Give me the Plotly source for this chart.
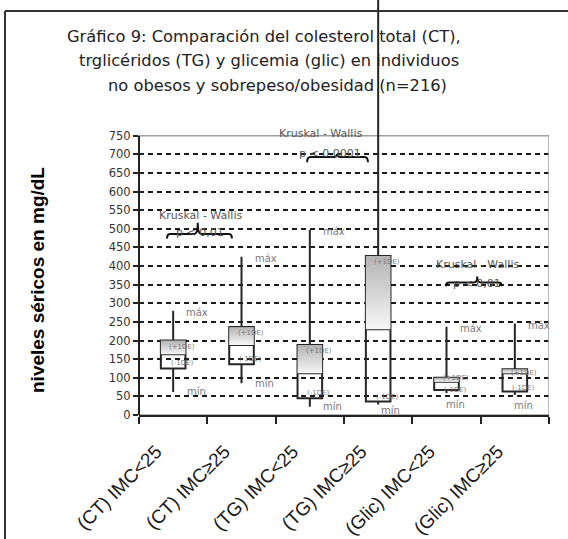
import plotly.graph_objects as go

# ---------------- data ----------------
categories = ["(CT) IMC<25", "(CT) IMC≥25", "(TG) IMC<25", "(TG) IMC≥25", "(Glic) IMC<25", "(Glic) IMC≥25"]
minimo = [62, 85, 22, 28, 59, 54]
menos_1de = [125, 136, 45, 36, 67, 63]
media = [163, 188, 112, 230, 89, 112]
mas_1de = [200, 236, 188, 427, 100, 123]
maximo = [280, 425, 497, 1150, 237, 246]
y_ticks = list(range(0, 751, 50))
kw_title = "Kruskal - Wallis"
kw_p = ["p < 0,01", "p < 0,0001", "p < 0,01"]
title_lines = ["Gráfico 9: Comparación del colesterol total (CT),",
               "trglicéridos (TG) y glicemia (glic) en individuos",
               "no obesos y sobrepeso/obesidad (n=216)"]
y_title = "niveles séricos en mg/dL"

# ---------------- geometry helpers (layout only) ----------------
W, H = 568, 539
ML, MR, MT, MB = 139, 19, 0, 124
PW, PH = W - ML - MR, H - MT - MB
Y_TOP = 1114.4   # value at top of plot area (image top)


def px(x, y):
    return (x - ML) / PW, (H - MB - y) / PH


xpos = list(range(len(categories)))
BW = 0.36

fig = go.Figure()

# gradient upper half (media -> +1DE)
for i in xpos:
    fig.add_trace(go.Scatter(
        x=[i - BW / 2, i + BW / 2, i + BW / 2, i - BW / 2, i - BW / 2],
        y=[media[i], media[i], mas_1de[i], mas_1de[i], media[i]],
        mode="lines", line=dict(width=0), fill="toself",
        fillgradient=dict(type="vertical", colorscale=[[0, "#f7f7f7"], [1, "#b3b3b3"]]),
        hoverinfo="skip", showlegend=False))

fig.add_trace(go.Box(
    x=xpos, q1=menos_1de, median=media, q3=mas_1de,
    lowerfence=minimo, upperfence=maximo,
    width=BW, whiskerwidth=0, boxpoints=False,
    fillcolor="rgba(0,0,0,0)", line=dict(color="#262626", width=2),
    hoverinfo="skip", showlegend=False))

shapes = []
# plot frame (gray) and y axis line
shapes.append(dict(type="rect", xref="x", yref="y", x0=-0.5, x1=5.5, y0=0, y1=750,
                   line=dict(color="#a0a0a0", width=1.5), layer="between"))
shapes.append(dict(type="line", xref="paper", yref="y", x0=0, x1=0, y0=0, y1=750,
                   line=dict(color="#222", width=2)))
# outer border
bx0, by0 = px(5, 11)
_, by1 = px(5, 539)
shapes.append(dict(type="line", xref="paper", yref="paper", x0=bx0, x1=1.2, y0=by0, y1=by0,
                   line=dict(color="#333", width=2)))
shapes.append(dict(type="line", xref="paper", yref="paper", x0=bx0, x1=bx0, y0=by0, y1=by1,
                   line=dict(color="#333", width=2)))


def brace(x0, x1, yb, tipx, tiph, d):
    e = 0.05
    return (f"M {x0},{yb - d} Q {x0},{yb} {x0 + e},{yb} L {tipx - e},{yb} "
            f"Q {tipx},{yb} {tipx},{yb + tiph} Q {tipx},{yb} {tipx + e},{yb} "
            f"L {x1 - e},{yb} Q {x1},{yb} {x1},{yb - d}")


for (x0, x1, yb, tx, th, d) in [(-0.09, 0.86, 486, 0.36, 30, 12),
                                (1.96, 2.85, 693, 2.40, 8, 14),
                                (3.99, 4.81, 356, 4.45, 16, 10)]:
    shapes.append(dict(type="path", xref="x", yref="y", path=brace(x0, x1, yb, tx, th, d),
                       line=dict(color="#111", width=2)))

ann = []
for k, t in enumerate(title_lines):
    ax, ay = px([264, 269, 277][k], [36, 61, 85][k])
    ann.append(dict(xref="paper", yref="paper", x=ax, y=ay, text=t, showarrow=False,
                    xanchor="center", yanchor="middle",
                    font=dict(family="DejaVu Sans", size=16.3, color="#222")))
ax, ay = px(37, 280)
ann.append(dict(xref="paper", yref="paper", x=ax, y=ay, text=y_title, showarrow=False,
                textangle=-90, xanchor="center", yanchor="middle",
                font=dict(family="Liberation Sans", size=19, color="#000", weight="bold")))

kw_pos = [((0.40, 537), (0.39, 489)), ((2.155, 757), (2.30, 703)), ((4.45, 403), (4.45, 354))]
for k, ((tx, ty), (px_, py_)) in enumerate(kw_pos):
    ann.append(dict(x=tx, y=ty, text=kw_title, showarrow=False,
                    font=dict(family="DejaVu Sans", size=11, color="#555")))
    ann.append(dict(x=px_, y=py_, text=kw_p[k], showarrow=False,
                    font=dict(family="DejaVu Sans", size=11, color="#555")))

small = dict(family="DejaVu Sans", size=10, color="#7a7a7a")
tiny = dict(family="DejaVu Sans", size=7, color="#7a7a7a")
min_shift = [(23, 0), (23, 0), (23, 0), (12, -6), (9, -11), (9, -11)]
de_shift = [(-6, 5), (-6, 5), (-6, 5), (-6, 5), (0, 0), (-4, 4)]
for i in xpos:
    if maximo[i] <= y_ticks[-1]:
        ann.append(dict(x=i, y=maximo[i], text="máx", showarrow=False, xshift=24, yshift=-2,
                        font=small))
    ann.append(dict(x=i, y=minimo[i], text="mín", showarrow=False,
                    xshift=min_shift[i][0], yshift=min_shift[i][1], font=small))
    ann.append(dict(x=i, y=mas_1de[i], text="(+1DE)", showarrow=False, xshift=9,
                    yshift=de_shift[i][0], font=tiny))
    ann.append(dict(x=i, y=menos_1de[i], text="(-1DE)", showarrow=False, xshift=9,
                    yshift=de_shift[i][1], font=tiny))

fig.update_layout(
    width=W, height=H, autosize=False,
    margin=dict(l=ML, r=MR, t=MT, b=MB, pad=0),
    paper_bgcolor="white", plot_bgcolor="white",
    shapes=shapes, annotations=ann, showlegend=False,
    xaxis=dict(range=[-0.5, 5.5], tickmode="array", tickvals=xpos, ticktext=categories,
               tickangle=-45, ticks="", showgrid=False, zeroline=False,
               showline=True, linecolor="#222", linewidth=2,
               ticklabelshift=-17, ticklabelstandoff=16,
               tickfont=dict(family="Liberation Sans", size=19, color="#1a1a1a"),
               minor=dict(tickmode="array", tickvals=[v - 0.5 for v in range(7)], ticks="outside",
                          ticklen=7, tickwidth=2, tickcolor="#222", showgrid=False)),
    yaxis=dict(range=[0, Y_TOP], tickmode="array", tickvals=y_ticks, ticks="outside",
               ticklen=5, tickwidth=1.5, tickcolor="#222", showgrid=False, zeroline=False,
               showline=False,
               tickfont=dict(family="DejaVu Sans", size=11.5, color="#333"),
               minor=dict(tickmode="array", tickvals=y_ticks[1:-1], ticks="inside", ticklen=5,
                          tickwidth=1.5, tickcolor="#222", showgrid=True, gridcolor="#1a1a1a",
                          gridwidth=1.5, griddash="5px,4px")),
)

fig.write_html("out.html", config={"displayModeBar": False},
               post_script="document.body.style.margin='0px';")
